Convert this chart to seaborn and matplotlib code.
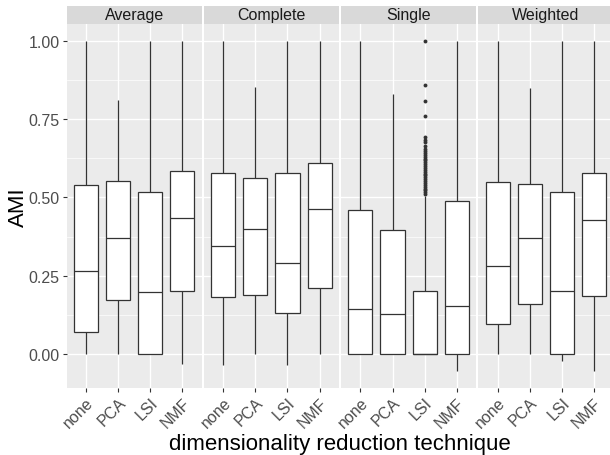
import numpy as np
import pandas as pd
import matplotlib
matplotlib.use("Agg")
import matplotlib.pyplot as plt
from matplotlib.ticker import FixedLocator
import seaborn as sns

# 1. data
methods = ["Average", "Complete", "Single", "Weighted"]
techniques = ["none", "PCA", "LSI", "NMF"]

# one row per method, columns follow `techniques`
lower_whisker = [
    [0.000, 0.000, 0.000, -0.032],
    [-0.034, 0.000, -0.034, 0.000],
    [0.000, 0.000, 0.000, -0.053],
    [0.000, 0.000, -0.021, -0.053],
]
q1 = [
    [0.069, 0.171, 0.000, 0.202],
    [0.183, 0.189, 0.132, 0.212],
    [0.000, 0.000, 0.000, 0.000],
    [0.095, 0.160, 0.000, 0.185],
]
median = [
    [0.264, 0.371, 0.197, 0.433],
    [0.344, 0.399, 0.290, 0.464],
    [0.143, 0.129, 0.000, 0.153],
    [0.282, 0.370, 0.201, 0.427],
]
q3 = [
    [0.539, 0.551, 0.516, 0.584],
    [0.577, 0.562, 0.578, 0.609],
    [0.461, 0.397, 0.202, 0.489],
    [0.549, 0.543, 0.516, 0.578],
]
upper_whisker = [
    [1.000, 0.812, 1.000, 1.000],
    [1.000, 0.851, 1.000, 1.000],
    [1.000, 0.829, 0.503, 1.000],
    [1.000, 0.849, 1.000, 1.000],
]

# outliers of Single / LSI
single_lsi_outliers = [
    0.512, 0.518, 0.523, 0.528, 0.534, 0.540, 0.546, 0.552, 0.558, 0.564,
    0.570, 0.576, 0.582, 0.588, 0.594, 0.600, 0.606, 0.612, 0.618, 0.624,
    0.630, 0.636, 0.642, 0.648, 0.655, 0.664, 0.676, 0.684, 0.693,
    0.760, 0.808, 0.860, 1.000,
]

rows = []
for i, m in enumerate(methods):
    for j, t in enumerate(techniques):
        for v in (lower_whisker[i][j], q1[i][j], median[i][j], q3[i][j], upper_whisker[i][j]):
            rows.append((m, t, v))
df = pd.DataFrame(rows, columns=["method", "technique", "AMI"])

# 2. drawing
plt.rcParams["font.family"] = ["Liberation Sans", "DejaVu Sans"]

W, H = 610, 456
fig = plt.figure(figsize=(W / 100, H / 100), dpi=100)

panel_w, gap = 135, 2.2
left0 = 66.7
p_top, p_bot = 25.2, 388.8
strip_top = 6.7

for i, m in enumerate(methods):
    x0 = left0 + i * (panel_w + gap)
    ax = fig.add_axes([x0 / W, (H - p_bot) / H, panel_w / W, (p_bot - p_top) / H])
    sub = df[df["method"] == m]
    sns.boxplot(data=sub, x="technique", y="AMI", order=techniques, whis=np.inf,
                width=0.75, color="white", linecolor="#333333", linewidth=0.9,
                showcaps=False, ax=ax)
    if m == "Single":
        sns.stripplot(x=["LSI"] * len(single_lsi_outliers), y=single_lsi_outliers,
                      order=techniques, jitter=False, color="#333333", size=2.8,
                      linewidth=0, ax=ax)

    ax.set_facecolor("#EBEBEB")
    for s in ax.spines.values():
        s.set_visible(False)
    ax.set_xlim(-0.6, 3.6)
    ax.set_ylim(-0.1078, 1.0528)
    ax.set_yticks([0, 0.25, 0.5, 0.75, 1.0])
    ax.yaxis.set_minor_locator(FixedLocator([-0.125, 0.125, 0.375, 0.625, 0.875]))
    ax.set_axisbelow(True)
    ax.grid(True, which="major", axis="both", color="white", linewidth=1.0)
    ax.grid(True, which="minor", axis="y", color="white", linewidth=0.5)
    ax.set_xticks(range(len(techniques)))
    ax.set_xticklabels(techniques, rotation=45, ha="right", va="top",
                       rotation_mode="anchor")
    ax.tick_params(which="major", length=3, width=0.8, color="#333333",
                   labelcolor="#4D4D4D", labelsize=11.5, pad=2)
    ax.tick_params(which="minor", length=0)
    ax.set_xlabel("")
    ax.set_ylabel("")
    if i == 0:
        ax.set_yticklabels(["0.00", "0.25", "0.50", "0.75", "1.00"])
    else:
        ax.tick_params(axis="y", left=False, labelleft=False)

    # facet strip
    sax = fig.add_axes([x0 / W, (H - p_top) / H, panel_w / W, (p_top - strip_top) / H])
    sax.set_facecolor("#D9D9D9")
    sax.set_xticks([])
    sax.set_yticks([])
    for s in sax.spines.values():
        s.set_visible(False)
    sax.text(0.5, 0.5, m, ha="center", va="center", fontsize=11.5,
             color="#1A1A1A", transform=sax.transAxes)

fig.text(18.5 / W, 1 - 207 / H, "AMI", rotation=90, ha="center", va="center",
         fontsize=16)
fig.text(340 / W, (H - 450) / H, "dimensionality reduction technique",
         ha="center", va="baseline", fontsize=16)

fig.savefig("out.png", dpi=100)
